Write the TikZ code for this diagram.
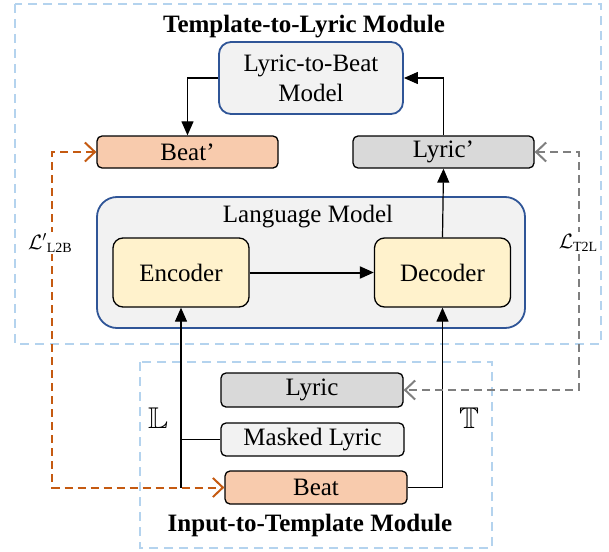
\documentclass[tikz,border=0pt]{standalone}
\usepackage{amsmath,amssymb}
\usepackage{fontspec}
\setmainfont{Liberation Serif}
\usetikzlibrary{arrows.meta}
\definecolor{bluebd}{HTML}{2F5597}
\definecolor{dashblue}{HTML}{B4D3EE}
\definecolor{orfill}{HTML}{F8CBAD}
\definecolor{grfill}{HTML}{D9D9D9}
\definecolor{ltfill}{HTML}{F2F2F2}
\definecolor{yefill}{HTML}{FFF2CC}
\definecolor{ordash}{HTML}{C55A11}
\definecolor{grdash}{HTML}{7F7F7F}
\tikzset{
  txt/.style={font=\fontsize{25}{30}\selectfont},
  smallbox/.style={txt, draw=black, line width=1.3pt, rounded corners=5pt, inner sep=0pt},
  bluebox/.style={txt, draw=bluebd, line width=1.8pt, fill=ltfill, inner sep=0pt},
  codebox/.style={txt, draw=black, line width=1.3pt, rounded corners=10pt, fill=yefill, inner sep=0pt, minimum width=136pt, minimum height=69pt},
  modbox/.style={draw=dashblue, line width=2pt, dash pattern=on 9pt off 6pt},
  conn/.style={draw=black, line width=1.2pt, -{Triangle[length=14pt,width=12pt]}},
  loss/.style={line width=2pt, dash pattern=on 8pt off 5pt, {Straight Barb[length=10pt,width=19pt,line width=2pt]}-{Straight Barb[length=10pt,width=19pt,line width=2pt]}},
  title/.style={font=\fontsize{25}{28}\selectfont\bfseries},
  losslabel/.style={fill=white, inner sep=2pt},
  setlabel/.style={font=\fontsize{30}{30}\selectfont}
}
\newcommand{\losstext}[2]{{\fontsize{21}{21}\selectfont$\mathcal{L}#1$}\raisebox{-3pt}{\fontsize{14}{14}\selectfont #2}}
\begin{document}
\begin{tikzpicture}[x=1pt,y=-1pt]
\useasboundingbox (0,0) rectangle (609,551);
% module frames
\draw[modbox] (15,4) rectangle (601,344);
\draw[modbox] (140,362) rectangle (492,548);
\node[title] (t1) at (304,27) {Template-to-Lyric Module};
\node[title] (t2) at (310,525) {Input-to-Template Module};
% nodes
\node[bluebox, rounded corners=12pt, minimum width=184pt, minimum height=72pt, align=center] (l2b) at (311,78) {Lyric-to-Beat\\Model};
\node[smallbox, fill=orfill, minimum width=181pt, minimum height=32pt] (beatp) at (187.5,152) {Beat’};
\node[smallbox, fill=grfill, minimum width=181pt, minimum height=32pt] (lyricp) at (443.5,152) {Lyric’};
\node[bluebox, rounded corners=20pt, minimum width=428pt, minimum height=131pt] (lm) at (311,262.5) {};
\node[txt] (lmlabel) at (308,217) {Language Model};
\node[codebox] (enc) at (181,272.5) {Encoder};
\node[codebox] (dec) at (442.5,272.5) {Decoder};
\node[smallbox, fill=grfill, minimum width=182pt, minimum height=34pt] (lyric) at (312,390) {Lyric};
\node[smallbox, fill=ltfill, minimum width=183pt, minimum height=33pt] (mlyric) at (312.5,439.5) {Masked Lyric};
\node[smallbox, fill=orfill, minimum width=182pt, minimum height=33pt] (beat) at (316,487.5) {Beat};
% black connectors
\draw[conn, line width=2pt] (enc.east) -- (dec.west);
\draw[conn] (dec.north) -- (lyricp.south);
\draw[conn] (lyricp.north) |- (l2b.east);
\draw[conn] (l2b.west) -| (beatp.north);
\draw[conn] (beat.east) -| (dec.south);
\coordinate (jl) at (181,487.5);
\draw[conn] (jl) -- (enc.south);
\draw[line width=1.2pt] (mlyric.west) -- (mlyric.west -| enc.south);
% losses
\coordinate (oa) at (52,152);
\coordinate (ob) at (52,487.5);
\draw[loss, draw=ordash] (beatp.west) -- (oa) -- (ob) -- (beat.west);
\coordinate (ga) at (579,152);
\coordinate (gb) at (579,390);
\draw[loss, draw=grdash] (lyricp.east) -- (ga) -- (gb) -- (lyric.east);
\node[losslabel] (l2bloss) at (50,243) {\losstext{'}{L2B}};
\node[losslabel] (t2lloss) at (578,243) {\losstext{}{T2L}};
% set labels
\node[setlabel] (setL) at (158,418) {$\mathbb{L}$};
\node[setlabel] (setT) at (469,418) {$\mathbb{T}$};
\end{tikzpicture}
\end{document}
